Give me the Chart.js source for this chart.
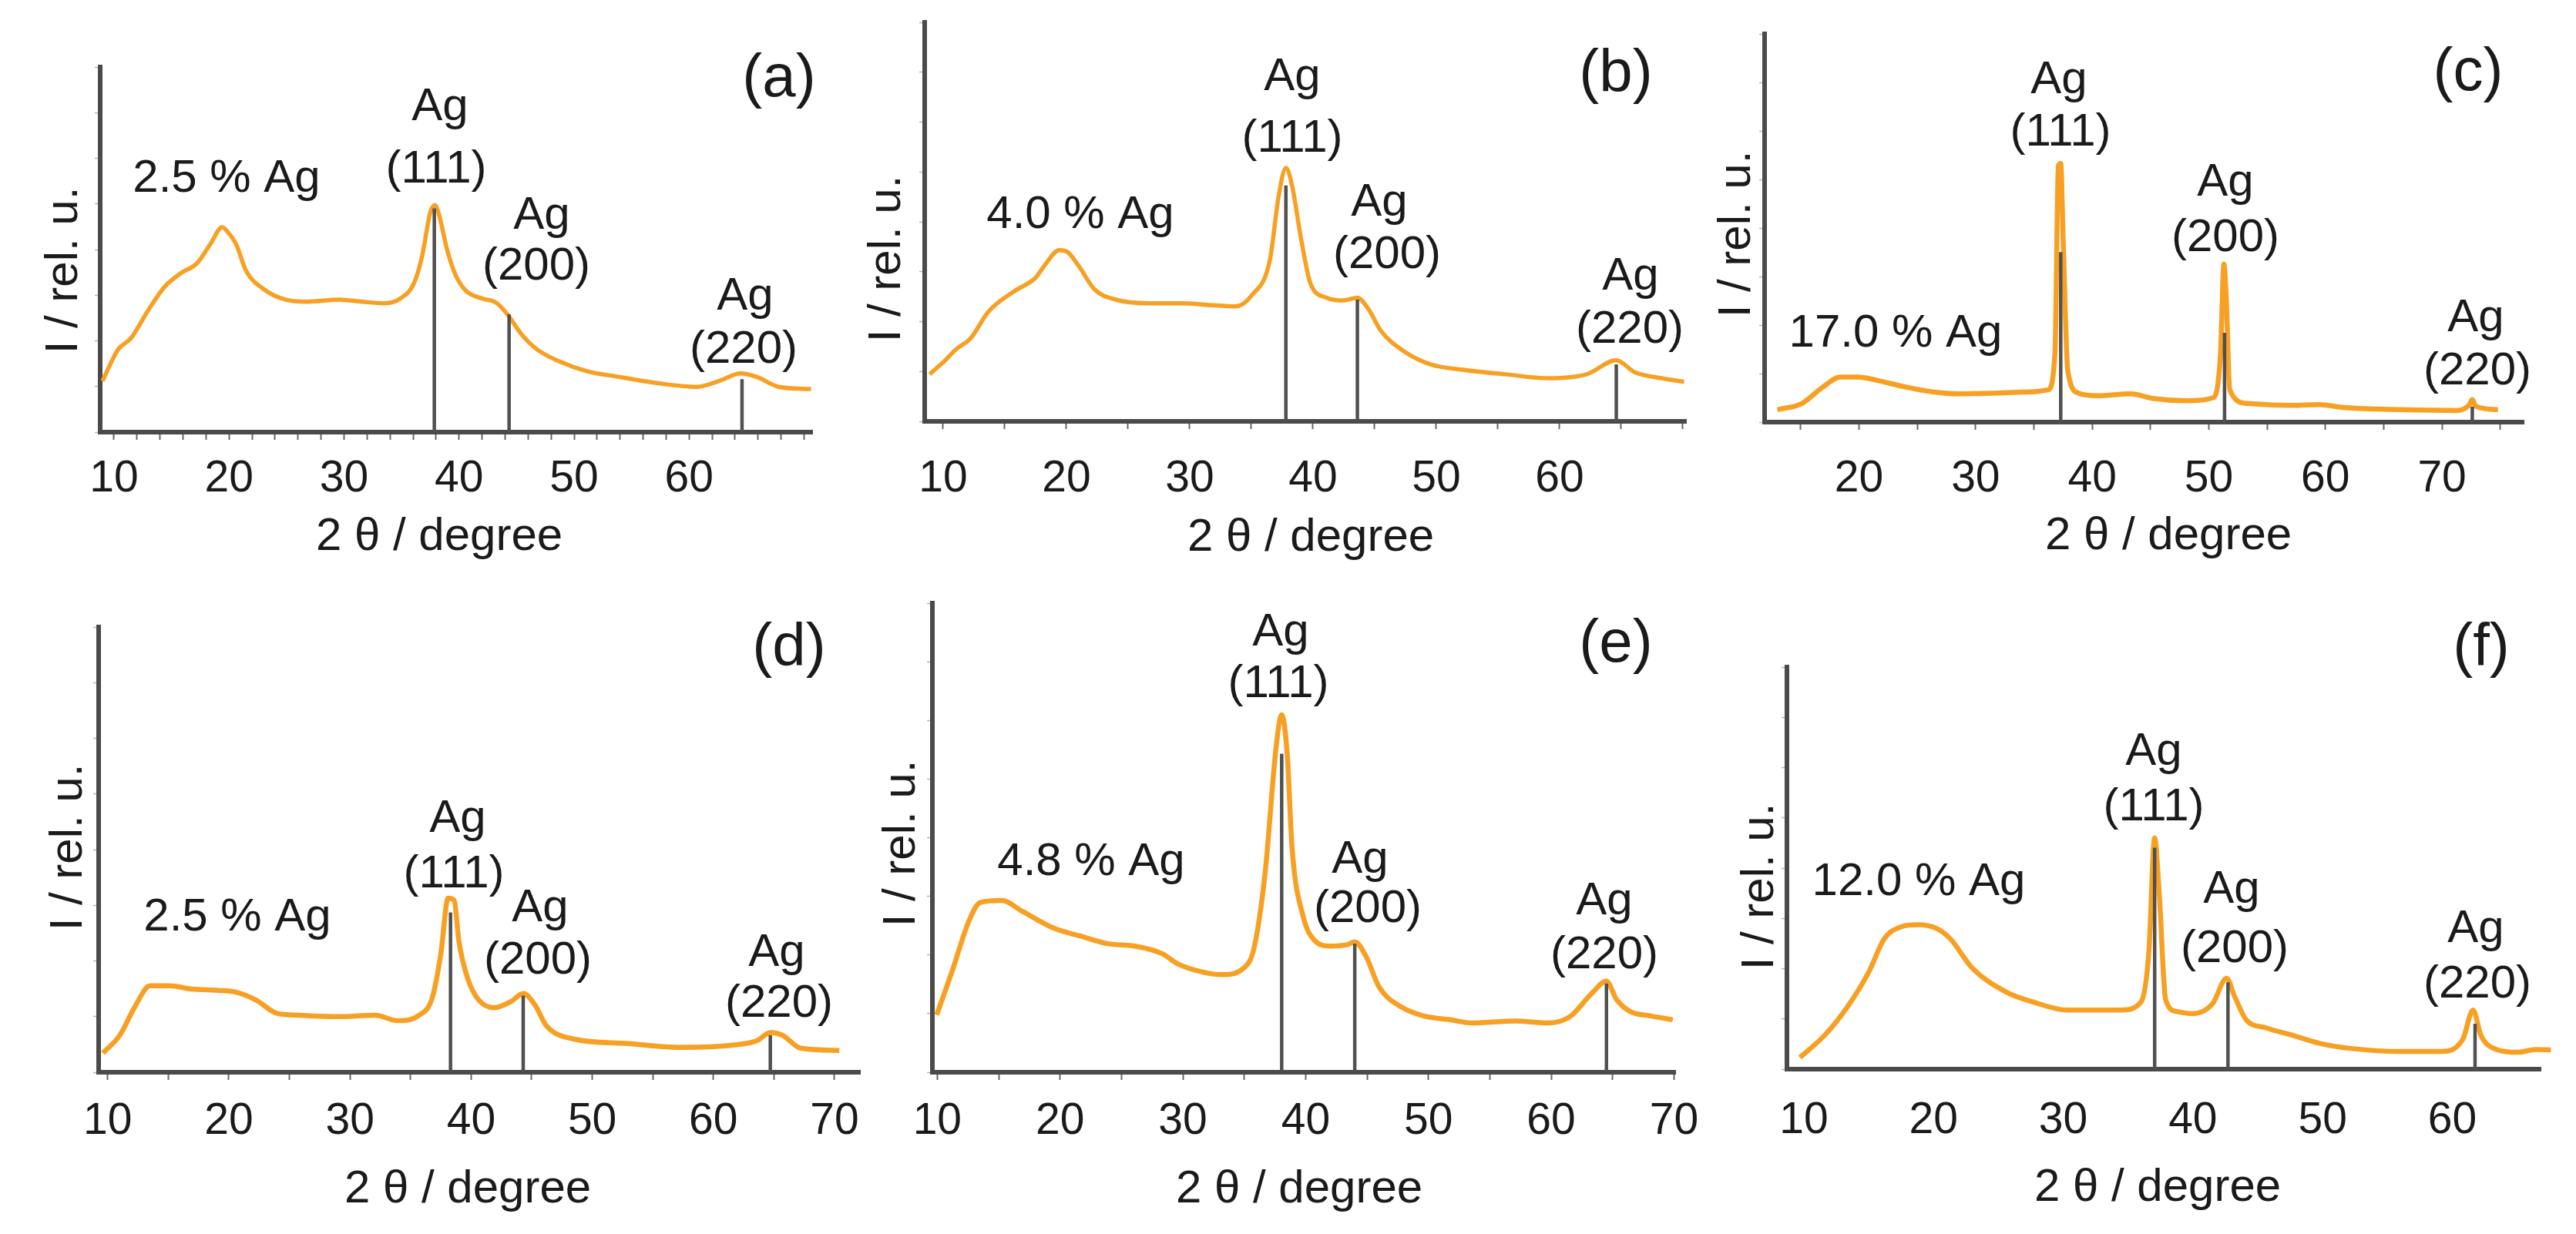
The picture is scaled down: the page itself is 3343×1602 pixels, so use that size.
<!DOCTYPE html>
<html>
<head>
<meta charset="utf-8">
<title>XRD patterns, Ag nanoparticles</title>
<script src="https://cdn.jsdelivr.net/npm/chart.js@4.4.1/dist/chart.umd.min.js"></script>
<style>
  html, body { margin: 0; padding: 0; background: #fff; }
  #page { position: relative; width: 3343px; height: 1602px; overflow: hidden; }
  #page canvas { position: absolute; }
</style>
</head>
<body>
<div id="page"></div>
<script>
// ---- data (2θ in degree, intensity in % of axis height) ----
var aTheta = [9.0, 10.35, 11.5, 12.96, 14.4, 15.8, 17.2, 18.4, 19.4, 19.9, 20.6, 21.5, 23.0, 24.9, 26.8, 29.6, 31.6, 33.5, 34.9, 36.1, 36.8, 37.5, 37.9, 38.2, 39.0, 39.7, 40.6, 42.0, 43.2, 44.2, 45.4, 46.8, 48.7, 51.1, 54.0, 57.3, 60.7, 62.6, 64.5, 65.9, 67.8, 70.6];
var aInt   = [14.0, 22.6, 25.8, 33.3, 39.8, 43.5, 46.2, 51.6, 56.1, 54.8, 51.6, 44.1, 39.2, 36.3, 35.7, 36.3, 35.7, 35.3, 36.6, 40.9, 48.4, 60.2, 62.2, 60.2, 49.5, 43.0, 38.7, 36.6, 35.5, 32.3, 26.9, 22.6, 19.4, 16.7, 15.1, 13.4, 12.4, 14.0, 16.1, 15.1, 12.4, 11.8];
var aPeaks = [37.85, 44.35, 64.6];
var aPeakTops = [61.3, 32.3, 14.5];

var bTheta = [8.9, 10.0, 11.1, 12.2, 13.7, 15.7, 17.5, 18.3, 19.4, 20.1, 21.0, 22.3, 24.0, 26.7, 29.3, 31.9, 33.7, 35.0, 36.5, 37.2, 37.8, 38.3, 39.0, 39.8, 41.1, 42.5, 43.6, 44.5, 45.5, 47.3, 49.5, 52.5, 55.6, 59.1, 62.2, 64.6, 66.1, 68.3, 70.1];
var bInt   = [11.8, 14.8, 18.2, 20.7, 27.6, 32.5, 36.0, 39.4, 42.9, 42.4, 38.9, 33.0, 30.5, 29.6, 29.6, 29.1, 28.8, 31.5, 40.4, 56.2, 63.5, 59.1, 46.3, 34.5, 31.0, 30.3, 31.0, 28.1, 22.7, 17.7, 14.3, 12.8, 11.8, 10.8, 11.8, 15.3, 12.3, 10.8, 9.9];
var bPeaks = [37.8, 43.6, 64.6];
var bPeakTops = [59.1, 30.5, 14.3];

var cTheta = [13.0, 15.1, 16.8, 18.4, 19.9, 21.5, 23.9, 26.3, 28.6, 31.9, 34.8, 36.2, 36.8, 37.1, 37.3, 37.5, 37.9, 38.8, 40.5, 43.3, 45.2, 48.1, 50.4, 51.0, 51.3, 51.5, 51.8, 53.3, 57.1, 59.4, 61.8, 66.5, 71.3, 72.3, 72.6, 72.9, 74.8];
var cInt   = [3.2, 4.8, 8.8, 11.6, 11.6, 10.8, 9.1, 7.8, 7.3, 7.5, 7.8, 8.3, 17.4, 66.1, 66.6, 47.8, 13.4, 7.5, 6.8, 7.3, 6.1, 5.5, 6.3, 17.4, 40.7, 31.6, 8.3, 4.8, 4.3, 4.5, 3.7, 3.2, 3.0, 4.3, 5.8, 4.1, 3.2];
var cPeaks = [37.3, 51.35, 72.6];
var cPeakTops = [43.8, 23.0, 4.0];

var dTheta = [9.6, 11.0, 12.2, 13.5, 15.1, 16.9, 19.1, 20.4, 22.2, 24.0, 25.8, 28.9, 32.1, 33.9, 35.7, 36.8, 37.5, 38.1, 38.6, 39.0, 39.7, 40.6, 41.9, 43.3, 44.3, 45.3, 46.2, 48.6, 52.7, 57.2, 61.6, 63.6, 64.7, 65.7, 67.2, 70.4];
var dInt   = [4.3, 8.3, 14.5, 19.4, 19.4, 18.7, 18.4, 18.1, 16.3, 13.2, 12.8, 12.5, 12.8, 11.6, 12.8, 16.8, 26.6, 39.1, 38.6, 29.3, 21.2, 16.3, 14.5, 15.9, 17.7, 15.0, 10.5, 7.4, 6.5, 5.6, 6.1, 7.1, 8.9, 8.3, 5.4, 4.9];
var dPeaks = [38.3, 44.3, 64.7];
var dPeakTops = [35.9, 17.2, 8.3];

var eTheta = [9.95, 11.2, 12.6, 13.5, 15.3, 16.8, 19.5, 21.7, 23.9, 26.1, 28.3, 29.6, 31.4, 33.2, 35.0, 35.8, 36.7, 37.6, 38.05, 38.5, 38.9, 39.8, 40.7, 42.0, 43.4, 44.0, 44.9, 46.0, 47.8, 49.6, 51.8, 53.5, 57.1, 59.7, 61.5, 63.3, 64.5, 65.3, 66.4, 68.1, 69.9];
var eInt   = [12.2, 21.5, 32.4, 36.2, 36.6, 34.5, 30.7, 29.0, 27.4, 26.9, 25.3, 23.1, 21.5, 20.8, 22.3, 26.5, 42.5, 69.4, 76.2, 67.8, 47.6, 33.2, 28.2, 26.9, 27.2, 27.8, 24.8, 18.1, 13.9, 12.0, 11.2, 10.5, 10.9, 10.5, 11.8, 16.8, 19.4, 15.6, 13.0, 12.0, 11.2];
var ePeaks = [38.05, 44.0, 64.5];
var ePeakTops = [67.9, 27.4, 18.9];

var fTheta = [9.7, 11.6, 13.3, 15.0, 16.2, 17.5, 18.8, 20.3, 21.3, 23.0, 25.6, 27.7, 30.3, 34.5, 36.0, 36.6, 37.05, 37.4, 37.9, 38.8, 40.0, 41.5, 42.6, 43.2, 44.1, 45.6, 47.7, 49.8, 52.3, 56.1, 59.1, 60.8, 61.6, 62.2, 63.4, 65.1, 66.4, 67.6];
var fInt   = [2.9, 8.4, 15.2, 24.1, 32.4, 35.4, 35.9, 34.9, 32.4, 25.1, 19.2, 16.7, 14.7, 14.7, 16.7, 29.0, 57.5, 43.8, 17.2, 14.3, 13.8, 16.2, 22.6, 18.2, 12.3, 10.3, 8.4, 6.4, 5.1, 4.4, 4.4, 7.4, 14.7, 8.4, 4.9, 4.2, 4.9, 4.8];
var fPeaks = [37.05, 42.7, 61.75];
var fPeakTops = [55.1, 21.6, 11.3];

// tick labels shown on each x axis
var aTickLabels = [10, 20, 30, 40, 50, 60];
var bTickLabels = [10, 20, 30, 40, 50, 60];
var cTickLabels = [20, 30, 40, 50, 60, 70];
var dTickLabels = [10, 20, 30, 40, 50, 60, 70];
var eTickLabels = [10, 20, 30, 40, 50, 60, 70];
var fTickLabels = [10, 20, 30, 40, 50, 60];

var sampleNames = ['2.5 % Ag', '4.0 % Ag', '17.0 % Ag', '2.5 % Ag', '4.8 % Ag', '12.0 % Ag'];

// ---- look ----
var ORANGE = '#f7a023';
var AXIS = '#4a4a4a';
var STICK = '#505050';
var INK = '#1a1a1a';
var FAMILY = '"Liberation Sans", Arial, Helvetica, sans-serif';

// text placement on the page: [text, x, baseline y, font size]
function notes(letter, name, pos) {
  return [
    ['(' + letter + ')', pos[0][0], pos[0][1], 78],
    [name, pos[1][0], pos[1][1], 60],
    ['Ag', pos[2][0], pos[2][1], 60], ['(111)', pos[3][0], pos[3][1], 60],
    ['Ag', pos[4][0], pos[4][1], 60], ['(200)', pos[5][0], pos[5][1], 60],
    ['Ag', pos[6][0], pos[6][1], 60], ['(220)', pos[7][0], pos[7][1], 60]
  ];
}

var panels = [
  { x: aTheta, y: aInt, peaks: aPeaks, tops: aPeakTops, labels: aTickLabels, min: 8.8, max: 70.7, step: 2, tickLen: 10, tickPad: 17, lw: 5.5,
    cell: [0, 0, 1105, 750], area: [130, 87, 1054, 561], xTitle: [570, 714], yTitle: [100, 351],
    notes: notes('a', sampleNames[0], [[1011,125],[294,249],[571,156],[566,237],[703,297],[696,363],[967,402],[965,471]]) },
  { x: bTheta, y: bInt, peaks: bPeaks, tops: bPeakTops, labels: bTickLabels, min: 8.5, max: 70.3, step: 5, tickLen: 10, tickPad: 31, lw: 5.5,
    cell: [1105, 0, 2215, 750], area: [1200, 29, 2201, 547], xTitle: [1701, 715], yTitle: [1168, 336],
    notes: notes('b', sampleNames[1], [[2097,119],[1402,296],[1677,117],[1677,197],[1790,280],[1800,348],[2116,376],[2115,445]]) },
  { x: cTheta, y: cInt, peaks: cPeaks, tops: cPeakTops, labels: cTickLabels, min: 11.9, max: 77.0, step: 5, tickLen: 10, tickPad: 30, lw: 6.5,
    cell: [2215, 0, 3343, 750], area: [2290, 44, 3275, 548], xTitle: [2814, 713], yTitle: [2271, 304],
    notes: notes('c', sampleNames[2], [[3203,117],[2460,450],[2672,121],[2674,189],[2888,254],[2888,326],[3213,430],[3215,499]]) },
  { x: dTheta, y: dInt, peaks: dPeaks, tops: dPeakTops, labels: dTickLabels, min: 9.25, max: 72.1, step: 5, tickLen: 10, tickPad: 20, lw: 6.5,
    cell: [0, 750, 1135, 1602], area: [128, 814, 1126, 1392], xTitle: [607, 1561], yTitle: [106, 1100],
    notes: notes('d', sampleNames[3], [[1024,864],[308,1208],[594,1080],[589,1152],[701,1196],[698,1264],[1008,1254],[1011,1320]]) },
  { x: eTheta, y: eInt, peaks: ePeaks, tops: ePeakTops, labels: eTickLabels, min: 9.6, max: 70.1, step: 5, tickLen: 10, tickPad: 20, lw: 6.5,
    cell: [1135, 750, 2230, 1602], area: [1210, 783, 2174, 1392], xTitle: [1686, 1561], yTitle: [1187, 1095],
    notes: notes('e', sampleNames[4], [[2097,859],[1416,1136],[1662,838],[1659,905],[1765,1133],[1775,1197],[2082,1187],[2082,1257]]) },
  { x: fTheta, y: fInt, peaks: fPeaks, tops: fPeakTops, labels: fTickLabels, min: 8.7, max: 66.8, step: 5, tickLen: 0, tickPad: 33, lw: 6.5,
    cell: [2230, 750, 3343, 1602], area: [2319, 866, 3297, 1388], xTitle: [2800, 1559], yTitle: [2301, 1151],
    notes: notes('f', sampleNames[5], [[3220,864],[2490,1162],[2795,993],[2795,1065],[2896,1172],[2900,1249],[3213,1223],[3215,1295]]) }
];

var X_AXIS_H = 100;
var page = document.getElementById('page');

panels.forEach(function (p) {
  var cw = p.cell[2] - p.cell[0], ch = p.cell[3] - p.cell[1];
  var canvas = document.createElement('canvas');
  canvas.width = cw; canvas.height = ch;
  canvas.style.left = p.cell[0] + 'px';
  canvas.style.top = p.cell[1] + 'px';
  canvas.style.width = cw + 'px';
  canvas.style.height = ch + 'px';
  page.appendChild(canvas);

  var datasets = [{
    data: p.x.map(function (v, i) { return { x: v, y: p.y[i] }; }),
    borderColor: ORANGE,
    borderWidth: p.lw,
    pointRadius: 0,
    cubicInterpolationMode: 'monotone',
    clip: false,
    order: 2
  }];
  p.peaks.forEach(function (v, i) {
    datasets.push({
      data: [{ x: v, y: 0 }, { x: v, y: p.tops[i] }],
      borderColor: STICK,
      borderWidth: 4.5,
      pointRadius: 0,
      order: 1
    });
  });

  // texts: panel letter, sample name, reflections, axis titles
  var textPlugin = {
    id: 'panelText',
    afterDraw: function (chart) {
      var ctx = chart.ctx, ox = p.cell[0], oy = p.cell[1];
      ctx.save();
      ctx.fillStyle = INK;
      ctx.textAlign = 'center';
      ctx.textBaseline = 'alphabetic';
      p.notes.forEach(function (n) {
        ctx.font = n[3] + 'px ' + FAMILY;
        ctx.fillText(n[0], n[1] - ox, n[2] - oy);
      });
      ctx.font = '60px ' + FAMILY;
      ctx.fillText('2 \u03b8 / degree', p.xTitle[0] - ox, p.xTitle[1] - oy);
      ctx.translate(p.yTitle[0] - ox, p.yTitle[1] - oy);
      ctx.rotate(-Math.PI / 2);
      ctx.fillText('I / rel. u.', 0, 0);
      ctx.restore();
    }
  };

  new Chart(canvas, {
    type: 'line',
    data: { datasets: datasets },
    options: {
      responsive: false,
      animation: false,
      devicePixelRatio: 1,
      layout: {
        padding: {
          left: p.area[0] - p.cell[0],
          top: p.area[1] - p.cell[1],
          right: p.cell[2] - p.area[2],
          bottom: p.cell[3] - p.area[3] - X_AXIS_H
        }
      },
      plugins: { legend: { display: false }, tooltip: { enabled: false } },
      scales: {
        x: {
          type: 'linear',
          min: p.min,
          max: p.max,
          afterFit: function (s) { s.height = X_AXIS_H; },
          border: { display: true, color: AXIS, width: 6 },
          grid: { display: true, drawOnChartArea: false, drawTicks: p.tickLen > 0, tickLength: p.tickLen, tickWidth: 2, color: '#666' },
          ticks: {
            stepSize: p.step,
            includeBounds: false,
            autoSkip: false,
            maxRotation: 0,
            minRotation: 0,
            padding: p.tickPad,
            color: INK,
            font: { family: FAMILY, size: 57 },
            callback: function (v) {
              var r = Math.round(v);
              return (Math.abs(v - r) < 1e-6 && p.labels.indexOf(r) >= 0) ? String(r) : '';
            }
          }
        },
        y: {
          type: 'linear',
          min: 0,
          max: 100,
          afterFit: function (s) { s.width = 0; },
          border: { display: true, color: AXIS, width: 6 },
          grid: { display: true, drawOnChartArea: false, drawTicks: true, tickLength: 7, tickWidth: 1.5, color: '#b5b5b5' },
          ticks: { display: false, stepSize: 12.5 }
        }
      }
    },
    plugins: [textPlugin]
  });
});
</script>
</body>
</html>
